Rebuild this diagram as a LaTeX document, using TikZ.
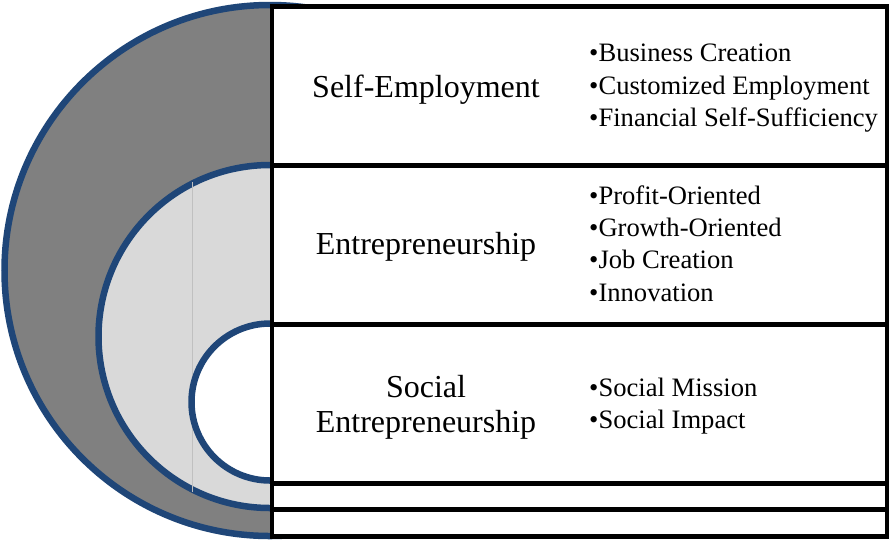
\documentclass[tikz,border=0pt]{standalone}
\usepackage{fontspec}
\setmainfont{Liberation Serif}
\definecolor{ringblue}{RGB}{31,70,120}
\definecolor{darkfill}{RGB}{128,128,128}
\definecolor{lightfill}{RGB}{217,217,217}
\definecolor{seam}{RGB}{192,192,192}
\begin{document}
\begin{tikzpicture}[x=1pt,y=-1pt,
  ring/.style={draw=ringblue,line width=6.5pt},
  band/.style={draw=black,fill=white,line width=4.5pt,inner sep=0pt,
    minimum width=615pt,rectangle},
  heading/.style={font=\fontsize{32}{35}\selectfont,anchor=base,inner sep=0pt},
  item/.style={font=\fontsize{26.6}{32}\selectfont,anchor=base west,inner sep=0pt}]
\useasboundingbox (0,0) rectangle (890,539);
% nested rings
\path[ring,fill=darkfill] (270,270.5) circle[radius=265.5pt];
\path[ring,fill=lightfill] (270,336.5) circle[radius=171.5pt];
\draw[seam,line width=0.6pt] (192,182) -- (192,492);
\path[ring,fill=white] (270,402) circle[radius=78.5pt];
% bands on the right
\node[band,minimum height=159pt] (b1) at (579.5,86) {};
\node[band,minimum height=159pt] (b2) at (579.5,245) {};
\node[band,minimum height=159pt] (b3) at (579.5,404) {};
\node[band,minimum height=26pt] (b4) at (579.5,496.5) {};
\node[band,minimum height=27pt] (b5) at (579.5,523) {};
% headings
\node[heading] (h1) at (426,97) {Self-Employment};
\node[heading] (h2) at (426,254) {Entrepreneurship};
\node[heading] (h3a) at (426,397) {Social};
\node[heading] (h3b) at (426,432) {Entrepreneurship};
% bullet lists
\node[item] (s1) at (589,61.7) {•Business Creation};
\node[item] (s2) at (589,94) {•Customized Employment};
\node[item] (s3) at (589,126.7) {•Financial Self-Sufficiency};
\node[item] (e1) at (589,204.3) {•Profit-Oriented};
\node[item] (e2) at (589,236.7) {•Growth-Oriented};
\node[item] (e3) at (589,268.3) {•Job Creation};
\node[item] (e4) at (589,301.7) {•Innovation};
\node[item] (m1) at (589,396.7) {•Social Mission};
\node[item] (m2) at (589,428.3) {•Social Impact};
\end{tikzpicture}
\end{document}
